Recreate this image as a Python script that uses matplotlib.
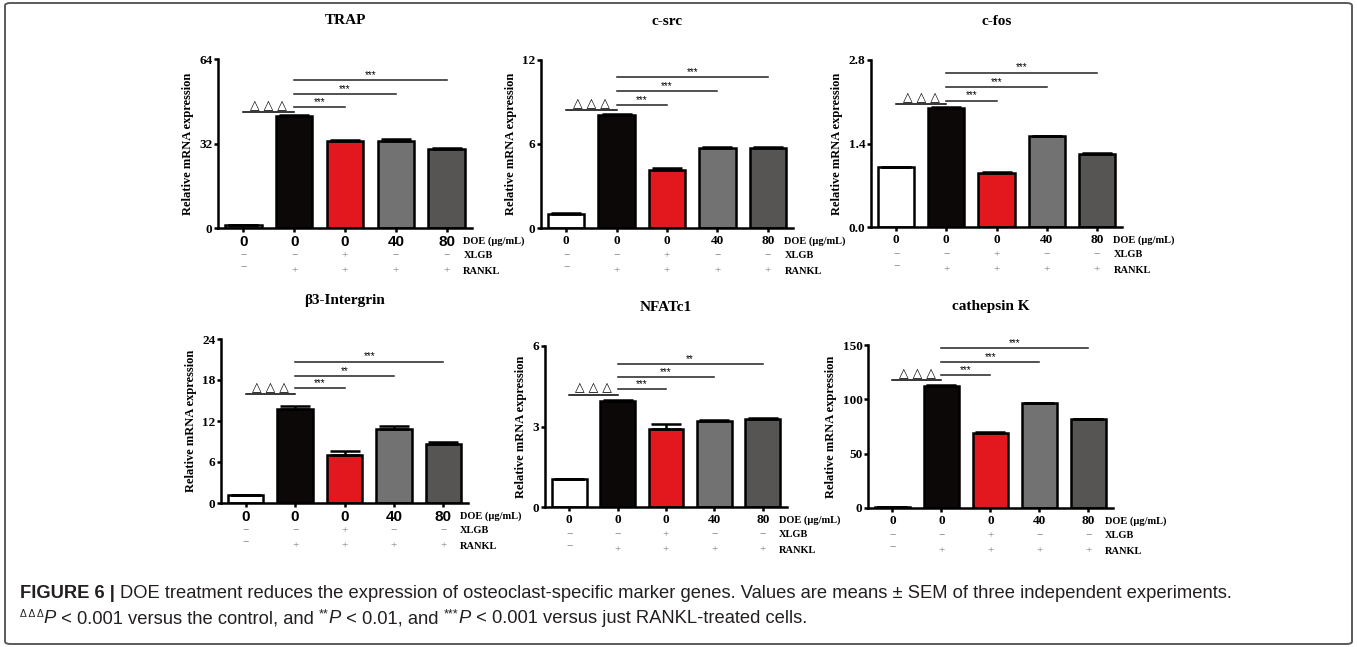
import matplotlib
matplotlib.use("Agg")
import matplotlib.pyplot as plt
from matplotlib.patches import FancyBboxPatch

W, H = 1357, 647

# data
titles = ["TRAP", "c-src", "c-fos", "β3-Intergrin", "NFATc1", "cathepsin K"]
doe = ["0", "0", "0", "40", "80"]
xlgb = ["−", "−", "+", "−", "−"]
rankl = ["−", "+", "+", "+", "+"]

trap_mean = [1.0, 42.3, 33.0, 33.0, 30.1]
trap_sem = [0.1, 0.4, 0.5, 0.7, 0.2]
csrc_mean = [1.03, 8.09, 4.14, 5.69, 5.72]
csrc_sem = [0.02, 0.08, 0.12, 0.12, 0.05]
cfos_mean = [1.0, 2.0, 0.90, 1.52, 1.22]
cfos_sem = [0.0, 0.01, 0.02, 0.01, 0.015]
b3_mean = [1.1, 13.7, 7.06, 10.86, 8.67]
b3_sem = [0.05, 0.5, 0.5, 0.4, 0.2]
nfat_mean = [1.03, 3.94, 2.92, 3.2, 3.29]
nfat_sem = [0.0, 0.04, 0.16, 0.03, 0.04]
ctsk_mean = [1.0, 112.0, 68.8, 96.6, 81.8]
ctsk_sem = [0.1, 1.6, 1.0, 0.3, 0.3]

# bracket heights (triangle bracket, then RANKL comparisons) and stars
trap_sig = [43.9, 45.8, 50.8, 56.1]
csrc_sig = [8.44, 8.80, 9.78, 10.79]
cfos_sig = [2.06, 2.12, 2.34, 2.59]
b3_sig = [15.97, 16.8, 18.6, 20.7]
nfat_sig = [4.19, 4.39, 4.84, 5.34]
ctsk_sig = [117.6, 122.2, 134.6, 147.2]
trap_stars = ["***", "***", "***"]
csrc_stars = ["***", "***", "***"]
cfos_stars = ["***", "***", "***"]
b3_stars = ["***", "**", "***"]
nfat_stars = ["***", "***", "**"]
ctsk_stars = ["***", "***", "***"]

trap_ticks = [0, 32, 64]
csrc_ticks = [0, 6, 12]
cfos_ticks = [0.0, 1.4, 2.8]
b3_ticks = [0, 6, 12, 18, 24]
nfat_ticks = [0, 3, 6]
ctsk_ticks = [0, 50, 100, 150]

bar_colors = ["white", "#0c0808", "#e3181f", "#727272", "#575553"]
serif = ["Liberation Serif", "DejaVu Serif"]
sans = ["Liberation Sans", "DejaVu Sans"]

panels = [
    (titles[0], trap_mean, trap_sem, trap_sig, trap_stars, trap_ticks, None, (218, 59, 472, 228), True),
    (titles[1], csrc_mean, csrc_sem, csrc_sig, csrc_stars, csrc_ticks, None, (541, 60, 793, 228), False),
    (titles[2], cfos_mean, cfos_sem, cfos_sig, cfos_stars, cfos_ticks, ["0.0", "1.4", "2.8"], (871, 60, 1122, 227), False),
    (titles[3], b3_mean, b3_sem, b3_sig, b3_stars, b3_ticks, None, (221, 339, 468, 503), True),
    (titles[4], nfat_mean, nfat_sem, nfat_sig, nfat_stars, nfat_ticks, None, (545, 346, 787, 507), False),
    (titles[5], ctsk_mean, ctsk_sem, ctsk_sig, ctsk_stars, ctsk_ticks, None, (868, 345, 1113, 508), False),
]

fig = plt.figure(figsize=(W / 100, H / 100), dpi=100)

# rounded frame around the figure
frame = FancyBboxPatch((5 / W, 1 - 644 / H), 1347 / W, 641 / H,
                       boxstyle="round,pad=0,rounding_size=0.004",
                       transform=fig.transFigure, facecolor="none",
                       edgecolor="#5a5a5a", linewidth=1.4)
fig.patches.append(frame)

for title, mean, sem, sig, stars, ticks, ticklabels, box, sans_x in panels:
    l, t, r, b = box
    ax = fig.add_axes([l / W, 1 - b / H, (r - l) / W, (b - t) / H])
    x = list(range(len(mean)))
    ax.bar(x, mean, width=0.72, color=bar_colors, edgecolor="black",
           linewidth=1.8, zorder=2)
    ax.errorbar(x, mean, yerr=[[0] * len(sem), sem], fmt="none",
                ecolor="black", elinewidth=1.8, capsize=11, capthick=1.8,
                zorder=3)
    ax.set_xlim(-0.5, 4.5)
    ax.set_ylim(0, ticks[-1])
    ax.set_yticks(ticks)
    if ticklabels:
        ax.set_yticklabels(ticklabels)
    ax.set_xticks(x)
    ax.set_xticklabels(doe)
    for lab in ax.get_yticklabels():
        lab.set_fontfamily(serif)
        lab.set_fontweight("bold")
        lab.set_fontsize(9.5)
    for lab in ax.get_xticklabels():
        lab.set_fontweight("bold")
        if sans_x:
            lab.set_fontfamily(sans)
            lab.set_fontsize(11)
        else:
            lab.set_fontfamily(serif)
            lab.set_fontsize(9.5)
    ax.tick_params(axis="y", length=3, width=1.8, pad=1)
    ax.tick_params(axis="x", length=3, width=1.8, pad=2)
    for s in ["top", "right"]:
        ax.spines[s].set_visible(False)
    for s in ["left", "bottom"]:
        ax.spines[s].set_linewidth(1.8)
    ax.set_ylabel("Relative mRNA expression", fontfamily=serif,
                  fontweight="bold", fontsize=9, labelpad=4)
    ax.set_title(title, fontfamily=serif, fontweight="bold", fontsize=11,
                 pad=25)

    # significance brackets
    ax.plot([0, 1], [sig[0], sig[0]], color="black", lw=1.1, clip_on=False)
    ax.text(0.5, sig[0], "\u25b3 \u25b3 \u25b3", ha="center", va="bottom",
            fontsize=9, fontfamily=["DejaVu Sans"])
    for k in range(3):
        y = sig[k + 1]
        ax.plot([1, k + 2], [y, y], color="#222222", lw=1.1, clip_on=False)
        ax.text((1 + k + 2) / 2, y, stars[k], ha="center", va="bottom",
                fontsize=7, fontfamily=sans)

    # treatment rows
    trans = ax.get_xaxis_transform()
    for i in x:
        ax.annotate(xlgb[i], (i, 0), xycoords=trans, xytext=(0, -20),
                    textcoords="offset points", ha="center", va="center",
                    fontsize=8, color="#777777", fontfamily=serif)
        ax.annotate(rankl[i], (i, 0), xycoords=trans,
                    xytext=(0, -31 if rankl[i] == "+" else -28.5),
                    textcoords="offset points", ha="center", va="center",
                    fontsize=8, color="#777777", fontfamily=serif)
    for txt, dy in [("DOE (\u03bcg/mL)", -9.5), ("XLGB", -20), ("RANKL", -31)]:
        ax.annotate(txt, (4.33, 0), xycoords=trans, xytext=(0, dy),
                    textcoords="offset points", ha="left", va="center",
                    fontsize=7.5, fontweight="bold", fontfamily=serif,
                    annotation_clip=False)

# caption, built piece by piece
fig.canvas.draw()
renderer = fig.canvas.get_renderer()


def write_line(pieces, x0, y0):
    xpos = x0
    for txt, weight, style, size, rise in pieces:
        tx = fig.text(xpos / W, 1 - (y0 - rise) / H, txt, fontsize=size,
                      fontweight=weight, fontstyle=style, fontfamily=sans,
                      color="#231f20", va="baseline", ha="left")
        bb = tx.get_window_extent(renderer=renderer)
        xpos += bb.width


line1 = [
    ("FIGURE 6 | ", "bold", "normal", 13.2, 0),
    ("DOE treatment reduces the expression of osteoclast-specific marker genes. "
     "Values are means \u00b1 SEM of three independent experiments.",
     "normal", "normal", 13.2, 0),
]
line2 = [
    ("\u0394 \u0394 \u0394", "normal", "normal", 7.5, 6),
    ("P", "normal", "italic", 13.2, 0),
    (" < 0.001 versus the control, and ", "normal", "normal", 13.2, 0),
    ("**", "normal", "normal", 9, 6),
    ("P", "normal", "italic", 13.2, 0),
    (" < 0.01, and ", "normal", "normal", 13.2, 0),
    ("***", "normal", "normal", 9, 6),
    ("P", "normal", "italic", 13.2, 0),
    (" < 0.001 versus just RANKL-treated cells.", "normal", "normal", 13.2, 0),
]
write_line(line1, 20, 598)
write_line(line2, 20, 623)

fig.savefig("out.png", dpi=100)
